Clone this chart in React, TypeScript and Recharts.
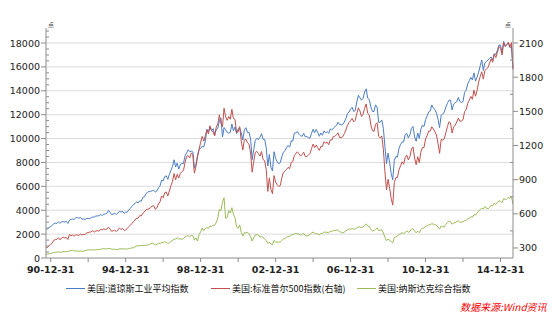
import React from 'react';
import { LineChart, Line, XAxis, YAxis, ReferenceLine, Legend } from 'recharts';

// monthly values, 1990-09 .. 2015-08 (last point = 2015-08-24 sell-off)
const dow = [
  2453, 2442, 2560, 2634,
  2736, 2882, 2914, 2888, 3028, 2907, 3025, 3044, 3017, 3069, 2895, 3169,
  3224, 3268, 3236, 3359, 3397, 3319, 3394, 3257, 3272, 3227, 3306, 3301,
  3310, 3371, 3436, 3428, 3528, 3516, 3540, 3651, 3555, 3681, 3684, 3754,
  3978, 3832, 3636, 3682, 3758, 3625, 3765, 3913, 3843, 3908, 3739, 3834,
  3844, 4011, 4158, 4321, 4465, 4556, 4709, 4611, 4789, 4756, 5075, 5117,
  5395, 5486, 5587, 5569, 5643, 5655, 5529, 5616, 5882, 6029, 6522, 6448,
  6813, 6878, 6584, 7009, 7331, 7673, 8223, 7622, 7945, 7442, 7823, 7908,
  7907, 8546, 8800, 9063, 8900, 8952, 8883, 7539, 7843, 8592, 9117, 9181,
  9359, 9307, 9786, 10789, 10560, 10971, 10655, 10829, 10337, 10729, 10878, 11497,
  11723, 10128, 10922, 10734, 10522, 10448, 10522, 11215, 10651, 10971, 10415, 10787,
  10887, 10495, 9879, 10735, 10912, 10502, 10523, 9950, 8236, 9075, 9852, 10022,
  9920, 10106, 10404, 9946, 9925, 9243, 7702, 8664, 7592, 7286, 8896, 8342,
  8054, 7891, 7992, 8480, 8850, 8985, 9234, 9416, 9275, 9801, 9782, 10454,
  10488, 10584, 10358, 10226, 10188, 10435, 10140, 10174, 10080, 10027, 10428, 10783,
  10490, 10766, 10504, 10193, 10467, 10275, 10641, 10482, 10569, 10440, 10806, 10718,
  10865, 10993, 11109, 11367, 11168, 11150, 11186, 11381, 11679, 12081, 12221, 12463,
  12622, 12269, 12354, 13063, 13628, 13409, 13212, 13358, 13896, 14165, 13372, 13265,
  12650, 12266, 12263, 12820, 12638, 11350, 11378, 11544, 10851, 9325, 7900, 8776,
  8001, 7063, 6547, 8168, 8500, 8447, 9172, 9496, 9712, 9713, 10345, 10428,
  10067, 10325, 10857, 11009, 10137, 9774, 10466, 10015, 10788, 11118, 11006, 11578,
  11892, 12226, 12320, 12811, 12570, 12414, 12143, 11614, 10913, 11955, 12046, 12218,
  12633, 12952, 13212, 13214, 12393, 12880, 13009, 13091, 13437, 13096, 13026, 13104,
  13861, 14054, 14579, 14840, 15116, 14910, 15500, 14810, 15130, 15546, 16086, 16577,
  15699, 16322, 16458, 16581, 16717, 16827, 16563, 17098, 17043, 17391, 17828, 17823,
  17165, 18133, 17776, 17841, 18011, 17620, 17690, 15871,
];

const spx = [
  306, 304, 322, 330,
  344, 367, 375, 375, 390, 371, 388, 395, 388, 392, 375, 417,
  409, 413, 404, 415, 415, 408, 424, 414, 418, 419, 431, 436,
  439, 443, 452, 440, 450, 451, 448, 464, 459, 468, 462, 466,
  482, 467, 446, 451, 457, 444, 458, 475, 463, 472, 454, 459,
  471, 487, 501, 515, 533, 545, 562, 562, 584, 582, 605, 616,
  636, 640, 645, 654, 669, 671, 640, 652, 687, 705, 757, 741,
  786, 791, 757, 801, 848, 885, 954, 899, 947, 915, 955, 970,
  980, 1049, 1102, 1112, 1091, 1134, 1121, 957, 1017, 1099, 1164, 1229,
  1280, 1238, 1286, 1335, 1302, 1373, 1329, 1320, 1283, 1363, 1389, 1469,
  1394, 1366, 1527, 1452, 1421, 1455, 1431, 1518, 1437, 1429, 1315, 1320,
  1366, 1240, 1160, 1249, 1256, 1224, 1211, 1134, 966, 1060, 1139, 1148,
  1130, 1107, 1147, 1076, 1067, 990, 797, 916, 815, 777, 936, 880,
  856, 841, 848, 917, 964, 975, 990, 1008, 996, 1051, 1058, 1112,
  1131, 1145, 1126, 1107, 1121, 1141, 1102, 1104, 1115, 1130, 1174, 1212,
  1181, 1204, 1181, 1157, 1192, 1191, 1234, 1220, 1229, 1207, 1249, 1248,
  1280, 1281, 1295, 1311, 1270, 1270, 1277, 1304, 1336, 1378, 1401, 1418,
  1438, 1407, 1421, 1482, 1531, 1503, 1455, 1474, 1527, 1565, 1481, 1468,
  1379, 1331, 1323, 1386, 1400, 1280, 1267, 1283, 1166, 969, 810, 903,
  826, 735, 677, 873, 919, 919, 987, 1021, 1057, 1036, 1096, 1115,
  1074, 1104, 1169, 1187, 1089, 1031, 1102, 1049, 1141, 1183, 1181, 1258,
  1286, 1327, 1326, 1364, 1345, 1321, 1292, 1219, 1131, 1253, 1247, 1258,
  1312, 1366, 1408, 1398, 1310, 1362, 1379, 1407, 1441, 1412, 1416, 1426,
  1498, 1515, 1569, 1598, 1631, 1606, 1686, 1633, 1682, 1757, 1806, 1848,
  1783, 1859, 1872, 1884, 1924, 1960, 1931, 2003, 1972, 2018, 2068, 2059,
  1995, 2105, 2068, 2086, 2107, 2063, 2104, 1868,
];

const nasdaq = [
  344, 329, 359, 374,
  414, 453, 482, 484, 506, 476, 502, 525, 527, 542, 523, 586,
  620, 633, 603, 579, 585, 563, 581, 563, 583, 605, 652, 677,
  696, 671, 690, 661, 701, 704, 705, 743, 763, 779, 754, 777,
  800, 793, 743, 733, 735, 706, 722, 765, 764, 777, 750, 752,
  755, 793, 817, 843, 865, 933, 1001, 1020, 1044, 1036, 1059, 1052,
  1060, 1100, 1101, 1191, 1243, 1185, 1081, 1141, 1227, 1222, 1293, 1291,
  1380, 1309, 1222, 1261, 1400, 1443, 1594, 1588, 1686, 1594, 1601, 1570,
  1619, 1771, 1835, 1868, 1779, 1895, 1873, 1499, 1694, 1419, 1950, 2193,
  2506, 2288, 2461, 2543, 2471, 2686, 2638, 2739, 2746, 2966, 3336, 4069,
  3940, 4697, 5048, 3321, 3401, 3966, 3767, 4206, 3673, 3370, 2598, 2471,
  2773, 2152, 1840, 2116, 2110, 2161, 2027, 1805, 1423, 1690, 1931, 1950,
  1934, 1731, 1845, 1688, 1616, 1463, 1229, 1315, 1172, 1114, 1479, 1336,
  1321, 1338, 1341, 1464, 1596, 1623, 1735, 1810, 1787, 1932, 1960, 2003,
  2066, 2030, 1994, 1920, 1987, 2048, 1887, 1838, 1897, 1975, 2097, 2175,
  2062, 2052, 1999, 1922, 2068, 2057, 2185, 2152, 2152, 2120, 2233, 2205,
  2306, 2281, 2340, 2323, 2179, 2172, 2091, 2184, 2258, 2367, 2432, 2415,
  2464, 2416, 2422, 2525, 2605, 2603, 2546, 2596, 2701, 2859, 2661, 2652,
  2390, 2271, 2279, 2413, 2523, 2293, 2326, 2368, 2092, 1721, 1450, 1577,
  1476, 1378, 1268, 1717, 1774, 1835, 1979, 2009, 2122, 2045, 2145, 2269,
  2147, 2238, 2398, 2461, 2257, 2109, 2255, 2114, 2369, 2507, 2498, 2653,
  2700, 2782, 2781, 2874, 2835, 2774, 2756, 2579, 2415, 2684, 2620, 2605,
  2814, 2967, 3092, 3046, 2827, 2935, 2940, 3067, 3116, 2977, 3010, 3020,
  3142, 3160, 3268, 3329, 3456, 3403, 3626, 3590, 3771, 3920, 4060, 4177,
  4104, 4308, 4199, 4115, 4243, 4408, 4370, 4580, 4493, 4631, 4792, 4736,
  4635, 4964, 4901, 4941, 5070, 4987, 5128, 4526,
];

const seriesNames = ['美国:道琼斯工业平均指数', '美国:标准普尔500指数(右轴)', '美国:纳斯达克综合指数'];
const COLORS = ['#4A7CC4', '#C0504D', '#9BBB59'];

// month index of each Dec-31 tick (first month = 1990-09)
const xTicks = [3, 27, 51, 75, 99, 123, 147, 171, 195, 219, 243, 267, 291];
const leftTicks = [
  0, 500, 1000, 1500, 2000, 2500, 3000, 3500, 4000, 4500, 5000, 5500, 6000, 6500, 7000, 7500,
  8000, 8500, 9000, 9500, 10000, 10500, 11000, 11500, 12000, 12500, 13000, 13500, 14000,
  14500, 15000, 15500, 16000, 16500, 17000, 17500, 18000, 18500, 19000,
];
const leftGrid = [2000, 4000, 6000, 8000, 10000, 12000, 14000, 16000, 18000];
const rightTicks = [300, 450, 600, 750, 900, 1050, 1200, 1350, 1500, 1650, 1800, 1950, 2100];

const AXIS = '#8c8c8c';
const FONT = 'Tahoma, "DejaVu Sans", "Noto Sans CJK SC", sans-serif';

const data = dow.map((v, i) => ({ i, dow: v, spx: spx[i], nasdaq: nasdaq[i] }));

const xLabel = (i: number) => {
  const year = 1990 + (i - 3) / 12;
  if ((year - 1990) % 4 !== 0) return '';
  return `${String(year % 100).padStart(2, '0')}-12-31`;
};

const LeftTick = (props: any) => {
  const { x, y, payload } = props;
  const v = payload.value;
  if (v % 2000 === 0) {
    return (
      <g>
        <line x1={x - 5} x2={x} y1={y} y2={y} stroke={AXIS} />
        <text x={x - 6} y={y} textAnchor="end" dominantBaseline="central" fontSize={9.5} fill="#222" fontFamily={FONT}>
          {v}
        </text>
      </g>
    );
  }
  return <line x1={x} x2={x + 3} y1={y} y2={y} stroke={AXIS} />;
};

const RightTick = (props: any) => {
  const { x, y, payload } = props;
  const v = payload.value;
  if (v % 300 === 0) {
    return (
      <g>
        <line x1={x} x2={x + 5} y1={y} y2={y} stroke={AXIS} />
        <text x={x + 6} y={y} textAnchor="start" dominantBaseline="central" fontSize={9.5} fill="#222" fontFamily={FONT}>
          {v}
        </text>
      </g>
    );
  }
  return <line x1={x - 3} x2={x} y1={y} y2={y} stroke={AXIS} />;
};

const LegendBox = () => {
  const items = [
    { left: 66, name: seriesNames[0], color: COLORS[0] },
    { left: 211, name: seriesNames[1], color: COLORS[1] },
    { left: 357, name: seriesNames[2], color: COLORS[2] },
  ];
  return (
    <div style={{ position: 'relative', width: 559, height: 18 }}>
      {items.map(it => (
        <div
          key={it.name}
          style={{
            position: 'absolute',
            left: it.left,
            top: 0,
            display: 'flex',
            alignItems: 'center',
            height: 18,
            fontSize: 9,
            fontFamily: '"Noto Sans CJK SC", sans-serif',
            color: '#111',
            whiteSpace: 'nowrap',
          }}
        >
          <span style={{ display: 'inline-block', width: 19, height: 1, background: it.color, marginRight: 2 }} />
          {it.name}
        </div>
      ))}
    </div>
  );
};

export default function App() {
  return (
    <div style={{ position: 'absolute', left: 0, top: 0, width: 559, height: 315, background: '#fff' }}>
      <LineChart width={559} height={315} data={data} margin={{ top: 28, right: 0, bottom: 19, left: 0 }}>
        {leftGrid.map(v => (
          <ReferenceLine key={v} yAxisId="left" y={v} stroke="#dcdcdc" strokeWidth={1} />
        ))}
        <XAxis
          dataKey="i"
          type="number"
          domain={[0, 299]}
          ticks={xTicks}
          interval={0}
          tickFormatter={xLabel}
          height={20}
          stroke={AXIS}
          tickSize={4}
          tickMargin={4}
          tick={{ fontSize: 9.5, fontWeight: 'bold', fill: '#222', fontFamily: FONT }}
        />
        <YAxis
          yAxisId="left"
          orientation="left"
          width={46}
          domain={[0, 19256]}
          ticks={leftTicks}
          interval={0}
          allowDataOverflow
          stroke={AXIS}
          tickLine={false}
          tickSize={0}
          tickMargin={0}
          tick={<LeftTick />}
        />
        <YAxis
          yAxisId="right"
          orientation="right"
          width={46}
          domain={[212, 2232]}
          ticks={rightTicks}
          interval={0}
          allowDataOverflow
          stroke={AXIS}
          tickLine={false}
          tickSize={0}
          tickMargin={0}
          tick={<RightTick />}
        />
        <Line yAxisId="left" dataKey="dow" name={seriesNames[0]} stroke={COLORS[0]} strokeWidth={1} dot={false} isAnimationActive={false} />
        <Line yAxisId="right" dataKey="spx" name={seriesNames[1]} stroke={COLORS[1]} strokeWidth={1} dot={false} isAnimationActive={false} />
        <Line yAxisId="left" dataKey="nasdaq" name={seriesNames[2]} stroke={COLORS[2]} strokeWidth={1} dot={false} isAnimationActive={false} />
        <Legend content={<LegendBox />} wrapperStyle={{ left: 0, top: 279, width: 559, height: 18 }} />
      </LineChart>
      <div style={{ position: 'absolute', left: 48, top: 20, fontSize: 6, color: '#444', fontFamily: '"Noto Sans CJK SC"' }}>点</div>
      <div style={{ position: 'absolute', left: 505, top: 20, fontSize: 6, color: '#444', fontFamily: '"Noto Sans CJK SC"' }}>点</div>
      <div
        style={{
          position: 'absolute',
          left: 460,
          top: 299,
          fontSize: 10,
          fontStyle: 'italic',
          color: '#ff0000',
          fontFamily: '"Noto Sans CJK SC", sans-serif',
          whiteSpace: 'nowrap',
        }}
      >
        数据来源:Wind资讯
      </div>
    </div>
  );
}
